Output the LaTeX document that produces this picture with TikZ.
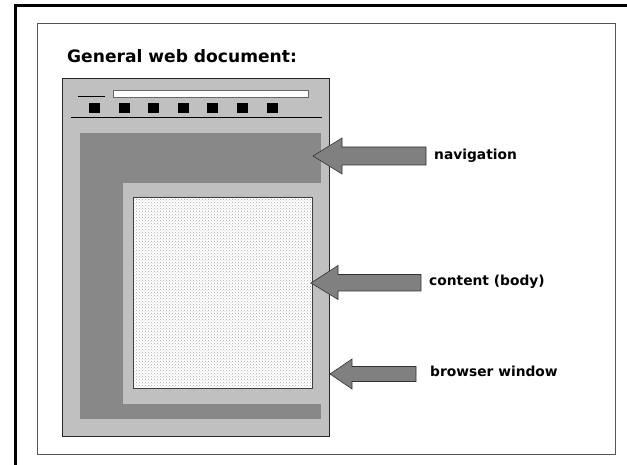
\documentclass[tikz,border=0pt]{standalone}
\usepackage{fontspec}
\setmainfont{DejaVu Sans}
\usetikzlibrary{patterns}
\definecolor{winbg}{HTML}{C0C0C0}
\definecolor{navbg}{HTML}{888888}
\definecolor{arrowfill}{HTML}{808080}
\definecolor{framegray}{HTML}{555555}
\tikzset{
  pointer/.style={fill=arrowfill, draw=black!80, line width=0.6pt, line join=miter},
  lbl/.style={anchor=base west, inner sep=0pt, font=\fontsize{13.8}{16}\selectfont\bfseries},
  btn/.style={fill=black, draw=none},
}
\begin{document}
\begin{tikzpicture}[x=1pt,y=-1pt]
\useasboundingbox (0,0) rectangle (627,465);
% outer heavy frame (top and left visible)
\draw[line width=3pt] (15.5,465) -- (15.5,5.5) -- (627,5.5);
% inner frame
\draw[framegray, line width=1pt] (37.5,23.5) rectangle (615,454.5);
% title
\node[anchor=base west, inner sep=0pt, font=\fontsize{17.1}{20}\selectfont\bfseries] (title) at (67,63) {General web document:};
% browser window
\path[fill=winbg] (62,78) rectangle (329,436);
\path[fill=navbg] (80,133) rectangle (321,419);
\path[fill=winbg] (123,183) rectangle (329,404);
\draw[black!85, line width=0.8pt] (62,78) rectangle (329,436);
% header
\draw[black, line width=1pt] (78,97) -- (105,97);
\draw[fill=white, draw=black!60, line width=0.8pt] (113.5,90) rectangle (308.5,97.5);
\foreach \cx in {94,124,153,183,212,242,272}
  \path[btn] (\cx-5.5,103) rectangle (\cx+5.5,113);
\draw[black, line width=1pt] (71,118) -- (322,118);
% content
\path[fill=white] (133,197) rectangle (312,388);
\path[pattern=crosshatch dots, pattern color=black!32] (133,197) rectangle (312,388);
\draw[black!75, line width=0.7pt] (133,197) rectangle (312,388);
% arrows
\draw[pointer] (313,156) -- (342,138) -- (342,147) -- (426,147) -- (426,165) -- (342,165) -- (342,174) -- cycle;
\draw[pointer] (311,283) -- (338,265.5) -- (338,274.5) -- (421,274.5) -- (421,291) -- (338,291) -- (338,299.5) -- cycle;
\draw[pointer] (330,374) -- (352,359) -- (352,366.5) -- (416,366.5) -- (416,381.5) -- (352,381.5) -- (352,389) -- cycle;
% labels
\node[lbl] (nav) at (434,160) {navigation};
\node[lbl] (cont) at (429,286) {content (body)};
\node[lbl] (brw) at (430,377) {browser window};
\end{tikzpicture}
\end{document}
